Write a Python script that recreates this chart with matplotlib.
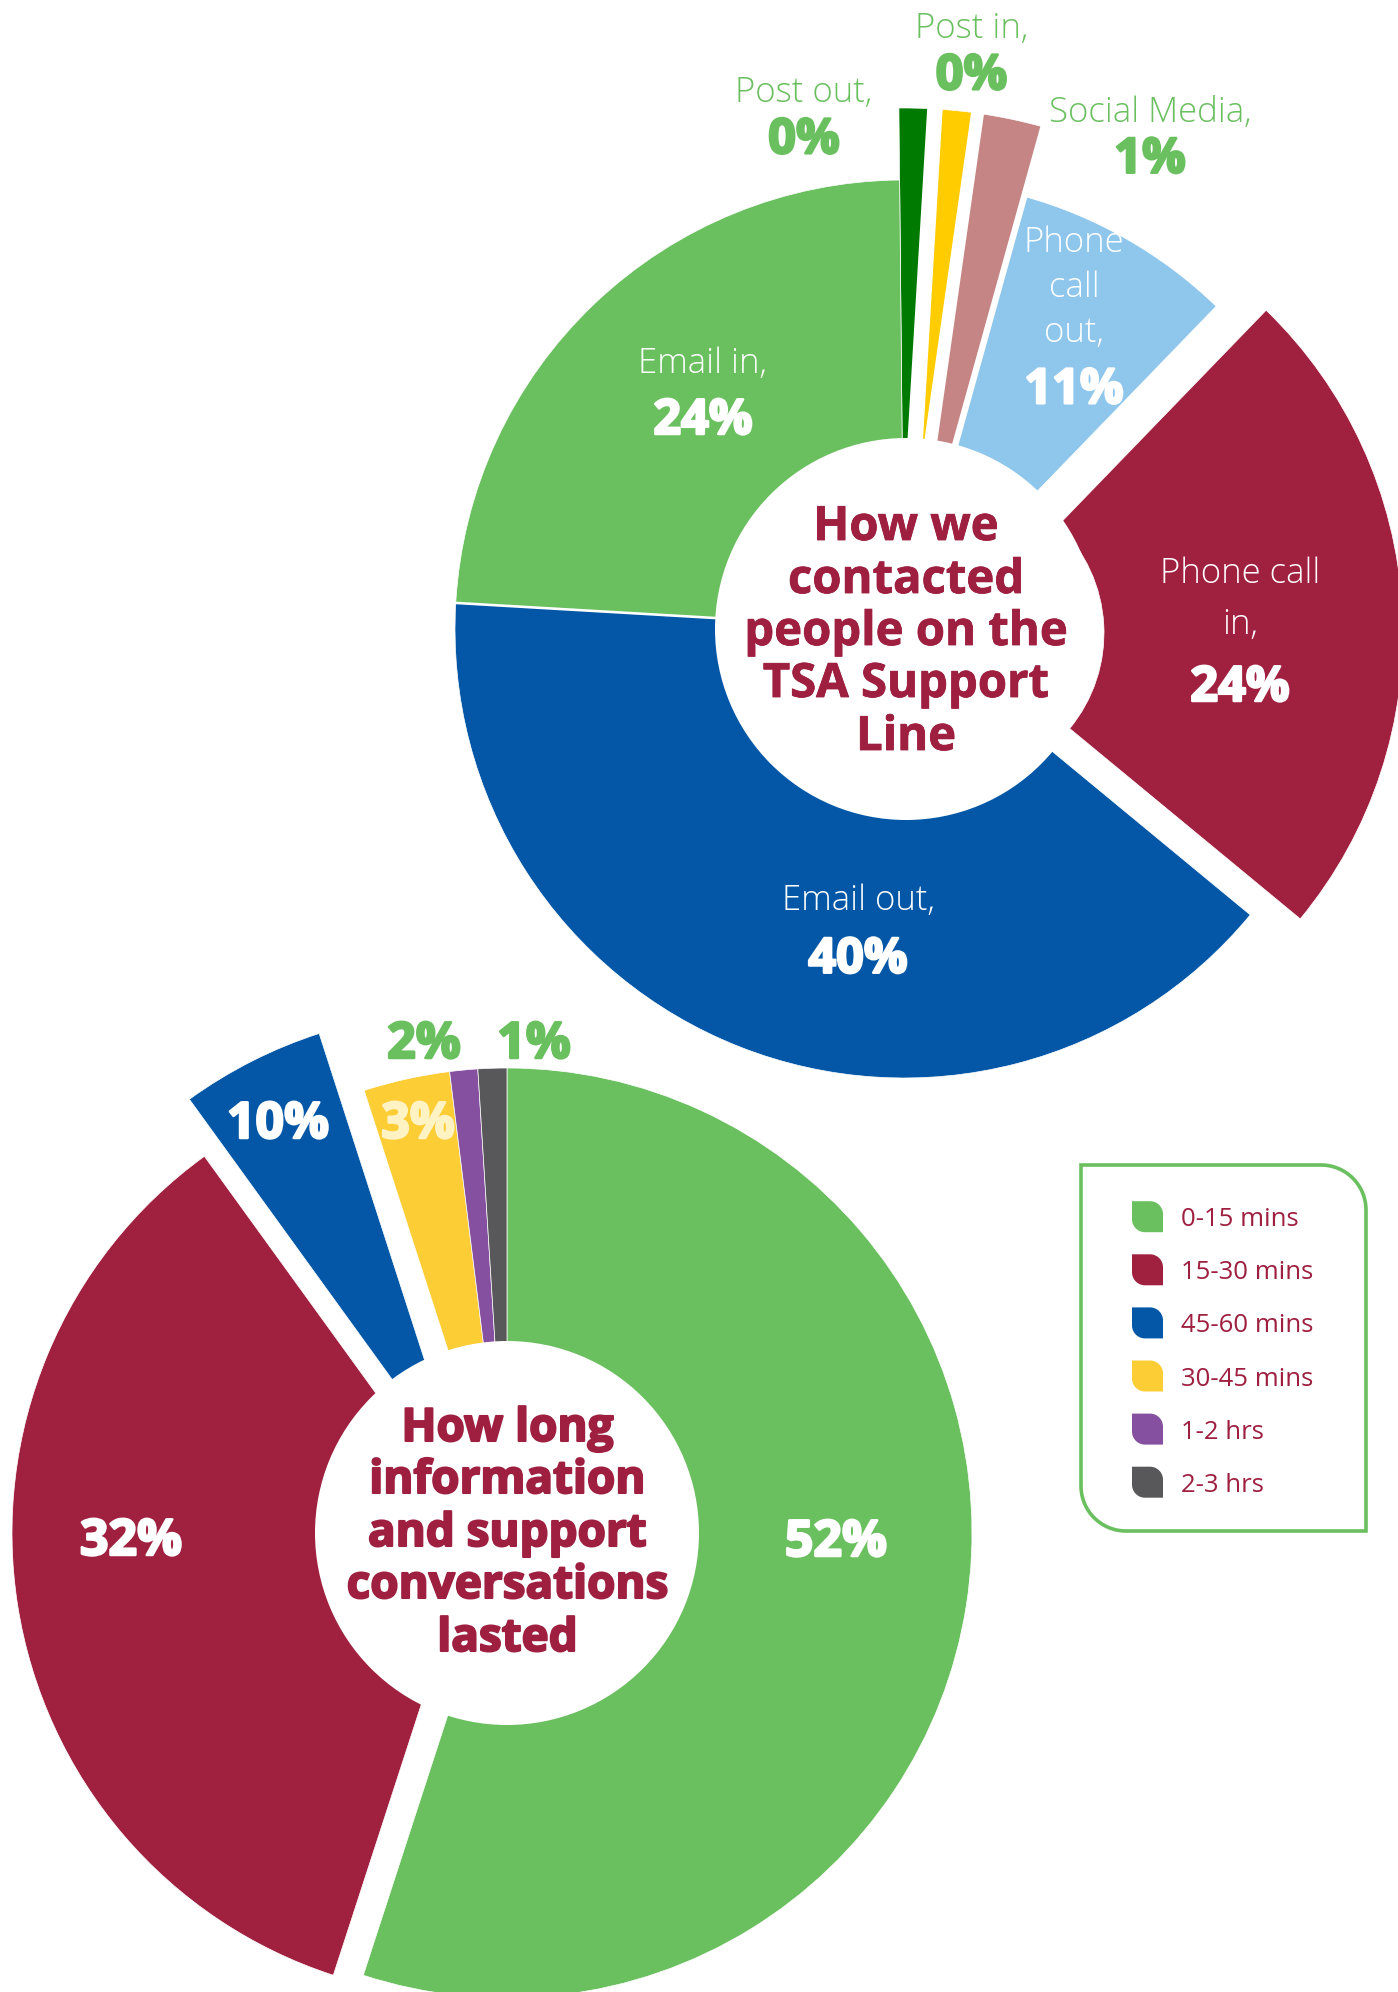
import numpy as np
import matplotlib
matplotlib.use("Agg")
import matplotlib.pyplot as plt
import matplotlib.patheffects as pe
from matplotlib.patches import Circle, Polygon

W, H = 1398, 1992

# ---------------- data ----------------
contact_names = ["Post out,", "Post in,", "Social Media,", "Phone\ncall\nout,",
                 "Phone call\nin,", "Email out,", "Email in,"]
contact_pct = ["0%", "0%", "1%", "11%", "24%", "40%", "24%"]
contact_share = [1.10, 1.31, 2.06, 7.92, 23.75, 39.94, 23.92]   # drawn shares
contact_colors = ["#017A01", "#FFCC00", "#C48584", "#8EC6EC", "#A0203F", "#0357A6", "#6ABF5F"]

duration_names = ["0-15 mins", "15-30 mins", "45-60 mins", "30-45 mins", "1-2 hrs", "2-3 hrs"]
duration_pct = ["52%", "32%", "10%", "3%", "2%", "1%"]
duration_share = [55.0, 35.03, 5.0, 3.0, 0.97, 1.0]             # drawn shares
duration_colors = ["#6ABF5F", "#A0203F", "#0357A6", "#FDCD35", "#8650A0", "#58585A"]

top_title = ["How we", "contacted", "people on the", "TSA Support", "Line"]
bot_title = ["How long", "information", "and support", "conversations", "lasted"]

# ---------------- style / layout ----------------
CRIMSON = "#9E1F3F"
LGREEN = "#6ABF5F"
FONT = "Open Sans"


def D(x, y):
    """image pixel coords (y down) -> data coords"""
    return x, H - y


def heavy(col, lw):
    return [pe.withStroke(linewidth=lw, foreground=col)]


fig = plt.figure(figsize=(W / 100, H / 100), dpi=100)
ax = fig.add_axes([0, 0, 1, 1])

# ---------- top doughnut ----------
TOP_C = D(904, 629)
TOP_R, TOP_R0, TOP_RTHIN = 449, 150, 521
top_start_cw = -0.56
wedges, _ = ax.pie(contact_share, colors=contact_colors, startangle=90 - top_start_cw,
                   counterclock=False, radius=TOP_R, center=TOP_C,
                   wedgeprops=dict(width=TOP_R - TOP_R0, edgecolor="white", linewidth=0.5))
for i in (0, 1, 2):
    wedges[i].set_radius(TOP_RTHIN)
    wedges[i].set_width(TOP_RTHIN - TOP_R0)
wedges[4].set_center((TOP_C[0] + 50, TOP_C[1] - 4))

# white separators between slices (boundary index -> gap px)
top_gaps = {1: 15.5, 2: 13.0, 3: 6.4, 6: 2.6}
cum = np.concatenate([[0], np.cumsum(contact_share)])
for k, g in top_gaps.items():
    ang = np.deg2rad(90 - (top_start_cw + 3.6 * cum[k]))
    rr = TOP_RTHIN + 6
    ax.plot([TOP_C[0], TOP_C[0] + rr * np.cos(ang)], [TOP_C[1], TOP_C[1] + rr * np.sin(ang)],
            color="white", lw=g * 0.72, solid_capstyle="butt", zorder=2.5)

ax.add_patch(Circle(D(906, 629), 191, fc="white", ec="none", zorder=3))

# ---------- bottom doughnut ----------
BOT_C = D(507, 1533)
BOT_R, BOT_R0 = 465, 76
wedges2, _ = ax.pie(duration_share, colors=duration_colors, startangle=90,
                    counterclock=False, radius=BOT_R, center=BOT_C,
                    wedgeprops=dict(width=BOT_R - BOT_R0, edgecolor="white", linewidth=0.5))
wedges2[1].set_center((BOT_C[0] - 30, BOT_C[1]))
wedges2[2].set_center((BOT_C[0] - 45, BOT_C[1] + 57))
ax.add_patch(Circle(D(507, 1533), 192, fc="white", ec="none", zorder=3))

# ---------- labels ----------
LIGHT = dict(family=FONT, weight="light", fontsize=25, ha="center", va="baseline", zorder=5)
BIG = dict(family=FONT, weight="bold", fontsize=35, ha="center", va="baseline", zorder=5)

# (x, baselines of name lines, pct baseline, colour)
top_label_pos = [
    (804, [101.7], 153.3, LGREEN),
    (971.5, [38.3], 89.3, LGREEN),
    (1150, [121.7], 172.7, LGREEN),
    (1074, [251.7, 296.7, 341.7], 403.3, "white"),
    (1240, [583, 633.5], 701, "white"),
    (858, [909.5], 972.7, "white"),
    (703, [373], 434, "white"),
]
for name, pct, (x, bls, pb, col) in zip(contact_names, contact_pct, top_label_pos):
    for line, b in zip(name.split("\n"), bls):
        ax.text(*D(x, b), line, color=col, **LIGHT)
    ax.text(*D(x, pb), pct, color=col, path_effects=heavy(col, 1.8), **BIG)

for line, b in zip(top_title, [540, 593, 645, 697, 750]):
    ax.text(*D(906, b), line, family=FONT, weight="bold", fontsize=34, color=CRIMSON,
            ha="center", va="baseline", zorder=5, path_effects=heavy(CRIMSON, 0.6))

bot_label_pos = [
    (836, 1556, "white"),
    (131, 1555, "white"),
    (278, 1138, "white"),
    (418, 1138, "#FFF3C4"),
    (424, 1058, LGREEN),
    (534, 1058, LGREEN),
]
for pct, (x, b, col) in zip(duration_pct, bot_label_pos):
    ax.text(*D(x, b), pct, color=col, family=FONT, weight="bold", fontsize=36,
            ha="center", va="baseline", zorder=5, path_effects=heavy(col, 1.8))

for line, b in zip(bot_title, [1441, 1493, 1546, 1598, 1651]):
    ax.text(*D(507.5, b), line, family=FONT, weight="bold", fontsize=33, color=CRIMSON,
            ha="center", va="baseline", zorder=5, path_effects=heavy(CRIMSON, 1.5))


# ---------- legend ----------
def leaf(x0, y0, x1, y1, r, n=24):
    """rectangle (data coords, y up) with rounded top-right and bottom-left corners"""
    pts = [(x0, y1)]
    t = np.linspace(np.pi / 2, 0, n)
    pts += list(zip(x1 - r + r * np.cos(t), y1 - r + r * np.sin(t)))
    pts += [(x1, y0)]
    t = np.linspace(3 * np.pi / 2, np.pi, n)
    pts += list(zip(x0 + r + r * np.cos(t), y0 + r + r * np.sin(t)))
    return pts


bx0, by0 = D(1081, 1531)
bx1, by1 = D(1366, 1165)
ax.add_patch(Polygon(leaf(bx0, by0, bx1, by1, 45), closed=True, fc="none",
                     ec="#6ABF5F", lw=2.6, zorder=4))
for i, (name, col) in enumerate(zip(duration_names, duration_colors)):
    yc = 1216.7 + i * 53.1
    mx0, my0 = D(1132, yc + 15.5)
    mx1, my1 = D(1163, yc - 15.5)
    ax.add_patch(Polygon(leaf(mx0, my0, mx1, my1, 13), closed=True, fc=col, ec="none", zorder=4))
    ax.text(*D(1181, yc + 9.5), name, family=FONT, fontsize=18.5, color=CRIMSON,
            ha="left", va="baseline", zorder=5)

ax.set_xlim(0, W)
ax.set_ylim(0, H)
ax.set_aspect("equal")
ax.axis("off")
fig.savefig("out.png", dpi=100, facecolor="white")
